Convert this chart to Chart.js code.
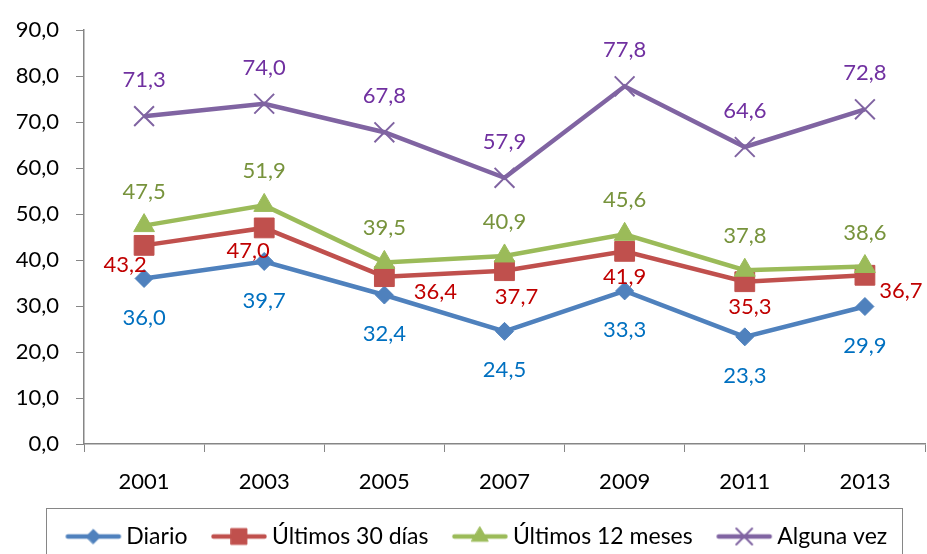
<!DOCTYPE html>
<html>
<head>
<meta charset="utf-8">
<script src="https://cdn.jsdelivr.net/npm/chart.js@4.4.1/dist/chart.umd.min.js"></script>
<style>
  html, body { margin: 0; padding: 0; background: #fff; overflow: hidden; }
  #wrap { width: 927px; height: 554px; position: relative; }
</style>
</head>
<body>
<div id="wrap"><canvas id="chart"></canvas></div>
<script>
// data
var YEARS = ['2001', '2003', '2005', '2007', '2009', '2011', '2013'];
var DIARIO = [36.0, 39.7, 32.4, 24.5, 33.3, 23.3, 29.9];
var ULTIMOS_30 = [43.2, 47.0, 36.4, 37.7, 41.9, 35.3, 36.7];
var ULTIMOS_12 = [47.5, 51.9, 39.5, 40.9, 45.6, 37.8, 38.6];
var ALGUNA_VEZ = [71.3, 74.0, 67.8, 57.9, 77.8, 64.6, 72.8];
var SERIES_NAMES = ['Diario', 'Últimos 30 días', 'Últimos 12 meses', 'Alguna vez'];

// where each value label sits relative to its point (dx, dy in px)
var LABEL_OFFSETS = [
    [[0, 39], [0, 39], [0, 39], [0, 39], [0, 39], [0, 39], [0, 39]],
    [[-19, 20], [-16, 23], [51, 15], [12, 26], [0, 26], [5, 25], [36, 16]],
    [[0, -34], [0, -34], [0, -34], [0, -34], [0, -34], [0, -34], [0, -34]],
    [[0, -36], [0, -36], [0, -36], [0, -36], [0, -36], [0, -36], [0, -36]]
];

var FONT = 'Lato';
var LINE_COLORS = ['#4F81BD', '#C0504D', '#9BBB59', '#8064A2'];
var LABEL_COLORS = ['#0070C0', '#C00000', '#77933C', '#7030A0'];
var POINT_STYLES = ['rectRot', 'rect', 'triangle', 'crossRot'];
var POINT_RADIUS = [9, 14, 12, 14];
var AXIS_COLOR = '#868686';
var LEGEND_SIZE = 23;
var LEGEND_SHIFT = 12;
var LEGEND_DROP = 4;
var ICON_LEAD = 4;
var ICON_BOX = 49 + ICON_LEAD;

function fmt(v) {
    return v.toFixed(1).replace('.', ',');
}

// little line+marker pictures for the legend; drawn so the picture
// starts a bit after the item's left edge and ends just before its text
function legendIcon(i) {
    var c = document.createElement('canvas');
    var half = 36;
    c.width = half * 2;
    c.height = 26;
    var ctx = c.getContext('2d');
    var x0 = half - ICON_BOX / 2 + ICON_LEAD;
    ctx.strokeStyle = LINE_COLORS[i];
    ctx.lineWidth = 4.5;
    ctx.lineCap = 'round';
    ctx.beginPath();
    ctx.moveTo(x0 + 2, 13);
    ctx.lineTo(x0 + 53, 13);
    ctx.stroke();
    ctx.fillStyle = LINE_COLORS[i];
    ctx.lineWidth = i === 3 ? 2 : 1;
    Chart.helpers.drawPoint(ctx, {
        pointStyle: POINT_STYLES[i],
        radius: POINT_RADIUS[i] * 0.8,
        rotation: 0,
        borderWidth: ctx.lineWidth
    }, x0 + 27.5, 13);
    return c;
}

var valueLabels = {
    id: 'valueLabels',
    afterDatasetsDraw: function (chart) {
        var ctx = chart.ctx;
        ctx.save();
        ctx.font = '22px ' + FONT;
        ctx.textAlign = 'center';
        ctx.textBaseline = 'middle';
        chart.data.datasets.forEach(function (ds, di) {
            var meta = chart.getDatasetMeta(di);
            ctx.fillStyle = LABEL_COLORS[di];
            meta.data.forEach(function (pt, i) {
                var off = LABEL_OFFSETS[di][i];
                ctx.fillText(fmt(ds.data[i]), pt.x + off[0], pt.y + off[1]);
            });
        });
        ctx.restore();
    }
};

var legendBox = {
    id: 'legendBox',
    afterLayout: function (chart) {
        // the legend sits a little right of centre and lower in the original
        chart.legend.left += LEGEND_SHIFT;
        chart.legend.right += LEGEND_SHIFT;
        chart.legend.top += LEGEND_DROP;
        chart.legend.bottom += LEGEND_DROP;
    },
    afterDraw: function (chart) {
        var boxes = chart.legend.legendHitBoxes;
        if (!boxes || !boxes.length) return;
        var left = boxes[0].left + ICON_LEAD - 20;
        var last = boxes[boxes.length - 1];
        var right = last.left + last.width + 15;
        var top = boxes[0].top + boxes[0].height / 2 - 25 - LEGEND_DROP;
        var ctx = chart.ctx;
        ctx.save();
        ctx.strokeStyle = AXIS_COLOR;
        ctx.lineWidth = 1;
        ctx.strokeRect(Math.round(left) + 0.5, Math.round(top) + 0.5, Math.round(right - left), 80);
        ctx.restore();
    }
};

var allData = [DIARIO, ULTIMOS_30, ULTIMOS_12, ALGUNA_VEZ];
var icons = [0, 1, 2, 3].map(legendIcon);

new Chart(document.getElementById('chart'), {
    type: 'line',
    data: {
        labels: YEARS,
        datasets: allData.map(function (values, i) {
            return {
                label: SERIES_NAMES[i],
                data: values,
                borderColor: LINE_COLORS[i],
                backgroundColor: LINE_COLORS[i],
                borderWidth: 4.5,
                fill: false,
                tension: 0,
                pointStyle: POINT_STYLES[i],
                pointRadius: POINT_RADIUS[i],
                pointBorderWidth: i === 3 ? 2 : 1,
                pointBorderColor: LINE_COLORS[i],
                pointBackgroundColor: LINE_COLORS[i],
                order: 3 - i
            };
        })
    },
    options: {
        responsive: true,
        maintainAspectRatio: false,
        animation: false,
        layout: {
            autoPadding: false,
            padding: { top: 28, right: 2, left: 0, bottom: 0 }
        },
        plugins: {
            tooltip: { enabled: false },
            legend: {
                position: 'bottom',
                labels: {
                    font: { family: FONT, size: LEGEND_SIZE },
                    color: '#000',
                    usePointStyle: true,
                    pointStyleWidth: ICON_BOX,
                    padding: 20,
                    generateLabels: function (chart) {
                        return chart.data.datasets.map(function (ds, i) {
                            return {
                                text: ds.label,
                                pointStyle: icons[i],
                                fillStyle: LINE_COLORS[i],
                                strokeStyle: LINE_COLORS[i],
                                lineWidth: 0,
                                datasetIndex: i,
                                hidden: false
                            };
                        });
                    }
                }
            }
        },
        scales: {
            x: {
                offset: true,
                grid: {
                    offset: true,
                    drawOnChartArea: false,
                    drawTicks: true,
                    tickLength: 8,
                    color: AXIS_COLOR
                },
                border: { color: AXIS_COLOR, width: 1.5 },
                ticks: {
                    font: { family: FONT, size: 22 },
                    color: '#000',
                    padding: 17,
                    maxRotation: 0
                },
                afterFit: function (scale) {
                    scale.height = 57;
                    scale.paddingLeft = 0;
                    scale.paddingRight = 0;
                }
            },
            y: {
                min: 0,
                max: 90,
                grid: {
                    drawOnChartArea: false,
                    drawTicks: true,
                    tickLength: 8,
                    color: AXIS_COLOR
                },
                border: { color: AXIS_COLOR, width: 1.5 },
                ticks: {
                    stepSize: 10,
                    font: { family: FONT, size: 22 },
                    color: '#000',
                    padding: 17,
                    callback: function (v) { return fmt(v); }
                },
                afterFit: function (scale) { scale.width = 84; }
            }
        }
    },
    plugins: [valueLabels, legendBox]
});
</script>
</body>
</html>
